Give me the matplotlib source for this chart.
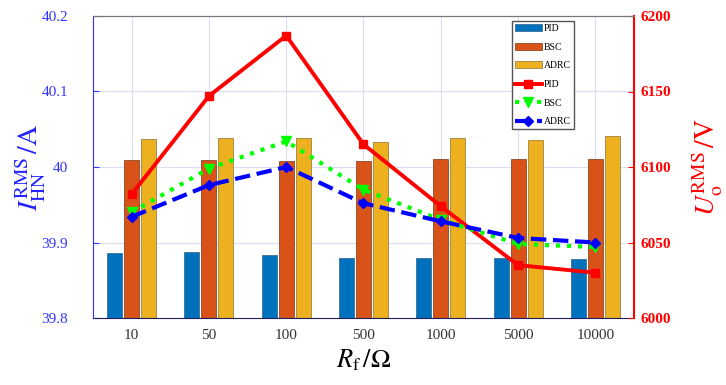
import numpy as np
import matplotlib
matplotlib.use('Agg')
import matplotlib.pyplot as plt

plt.rcParams['font.family'] = ['Liberation Serif', 'DejaVu Serif']
plt.rcParams['mathtext.fontset'] = 'stix'

# 数据
categories = ['10', '50', '100', '500', '1000', '5000', '10000']
i_pid = [39.886, 39.887, 39.884, 39.880, 39.880, 39.880, 39.878]
i_bsc = [40.009, 40.009, 40.008, 40.0075, 40.010, 40.010, 40.010]
i_adrc = [40.037, 40.038, 40.038, 40.0335, 40.038, 40.036, 40.041]
u_pid = [6082, 6147, 6187, 6115, 6074, 6035, 6030]
u_bsc = [6070, 6099, 6117, 6085, 6065, 6049, 6047]
u_adrc = [6067, 6088, 6100, 6076, 6064, 6053, 6050]

x = np.arange(1, len(categories) + 1)

fig = plt.figure(figsize=(7.26, 3.85), dpi=100)
ax = fig.add_axes([93 / 726, 1 - 318 / 385, 541 / 726, 302 / 385])
ax2 = ax.twinx()

# 柱状图（左轴）
w = 0.195
off = 0.22
ax.bar(x - off, i_pid, w, color='#0072BD', edgecolor='#3a6f96', linewidth=0.6, label='PID')
ax.bar(x, i_bsc, w, color='#D95319', edgecolor='#8a4a2a', linewidth=0.6, label='BSC')
ax.bar(x + off, i_adrc, w, color='#EDB120', edgecolor='#a08040', linewidth=0.6, label='ADRC')
ax.set_ylim(39.8, 40.2)
ax.set_xlim(0.5, len(categories) + 0.5)
ax.set_yticks([39.8, 39.9, 40.0, 40.1, 40.2])
ax.set_yticklabels(['39.8', '39.9', '40', '40.1', '40.2'])
ax.set_xticks(x)
ax.set_xticklabels(categories)
ax.grid(True, color='#dcdcf5', linewidth=0.8)
ax.set_axisbelow(True)

# 折线图（右轴）
ax2.plot(x, u_pid, '-', color='red', lw=2.8, marker='s', ms=6, label='PID')
ax2.plot(x, u_bsc, ':', color='#00ff00', lw=3, marker='v', ms=7, label='BSC')
ax2.plot(x, u_adrc, '--', color='blue', lw=3, marker='D', ms=5.5, label='ADRC')
ax2.set_ylim(6000, 6200)
ax2.set_yticks([6000, 6050, 6100, 6150, 6200])

# 坐标轴样式
ax.tick_params(axis='y', direction='in', colors='#3333ff', labelsize=11, length=4, pad=18)
ax.tick_params(axis='x', direction='in', colors='#333333', labelsize=11, length=4, pad=8)
ax2.tick_params(axis='y', direction='in', colors='red', labelsize=11, length=4, pad=5)
for t in ax2.get_yticklabels():
    t.set_fontweight('bold')
ax.spines['left'].set_color('#3333ff')
ax.spines['bottom'].set_color('#202060')
ax.spines['top'].set_color('#777777')
ax2.spines['left'].set_visible(False)
ax2.spines['right'].set_color('red')
ax2.spines['right'].set_linewidth(1.5)
ax2.spines['top'].set_color('#777777')
ax2.spines['bottom'].set_visible(False)
ax.spines['right'].set_visible(False)

ax.set_ylabel(r'$I_{\rm HN}^{\rm RMS}\,/\mathrm{A}$', color='#2222ff', fontsize=20, labelpad=-5)
ax2.set_ylabel(r'$U_{\rm o}^{\rm RMS}\,/\mathrm{V}$', color='red', fontsize=20, rotation=90, labelpad=14)
ax.set_xlabel(r'$R_{\rm f}\,/\Omega$', fontsize=19, labelpad=4)

h1, l1 = ax.get_legend_handles_labels()
h2, l2 = ax2.get_legend_handles_labels()
leg = ax2.legend(h1 + h2, l1 + l2, loc='upper left', bbox_to_anchor=((507 - 93) / 541, 1.0),
                 fontsize=7, fancybox=False, edgecolor='#555555', framealpha=1,
                 handlelength=2.8, handletextpad=0.2, borderpad=0.3, labelspacing=1.0)
leg.get_frame().set_linewidth(1.0)

fig.savefig('out.png', dpi=100)
